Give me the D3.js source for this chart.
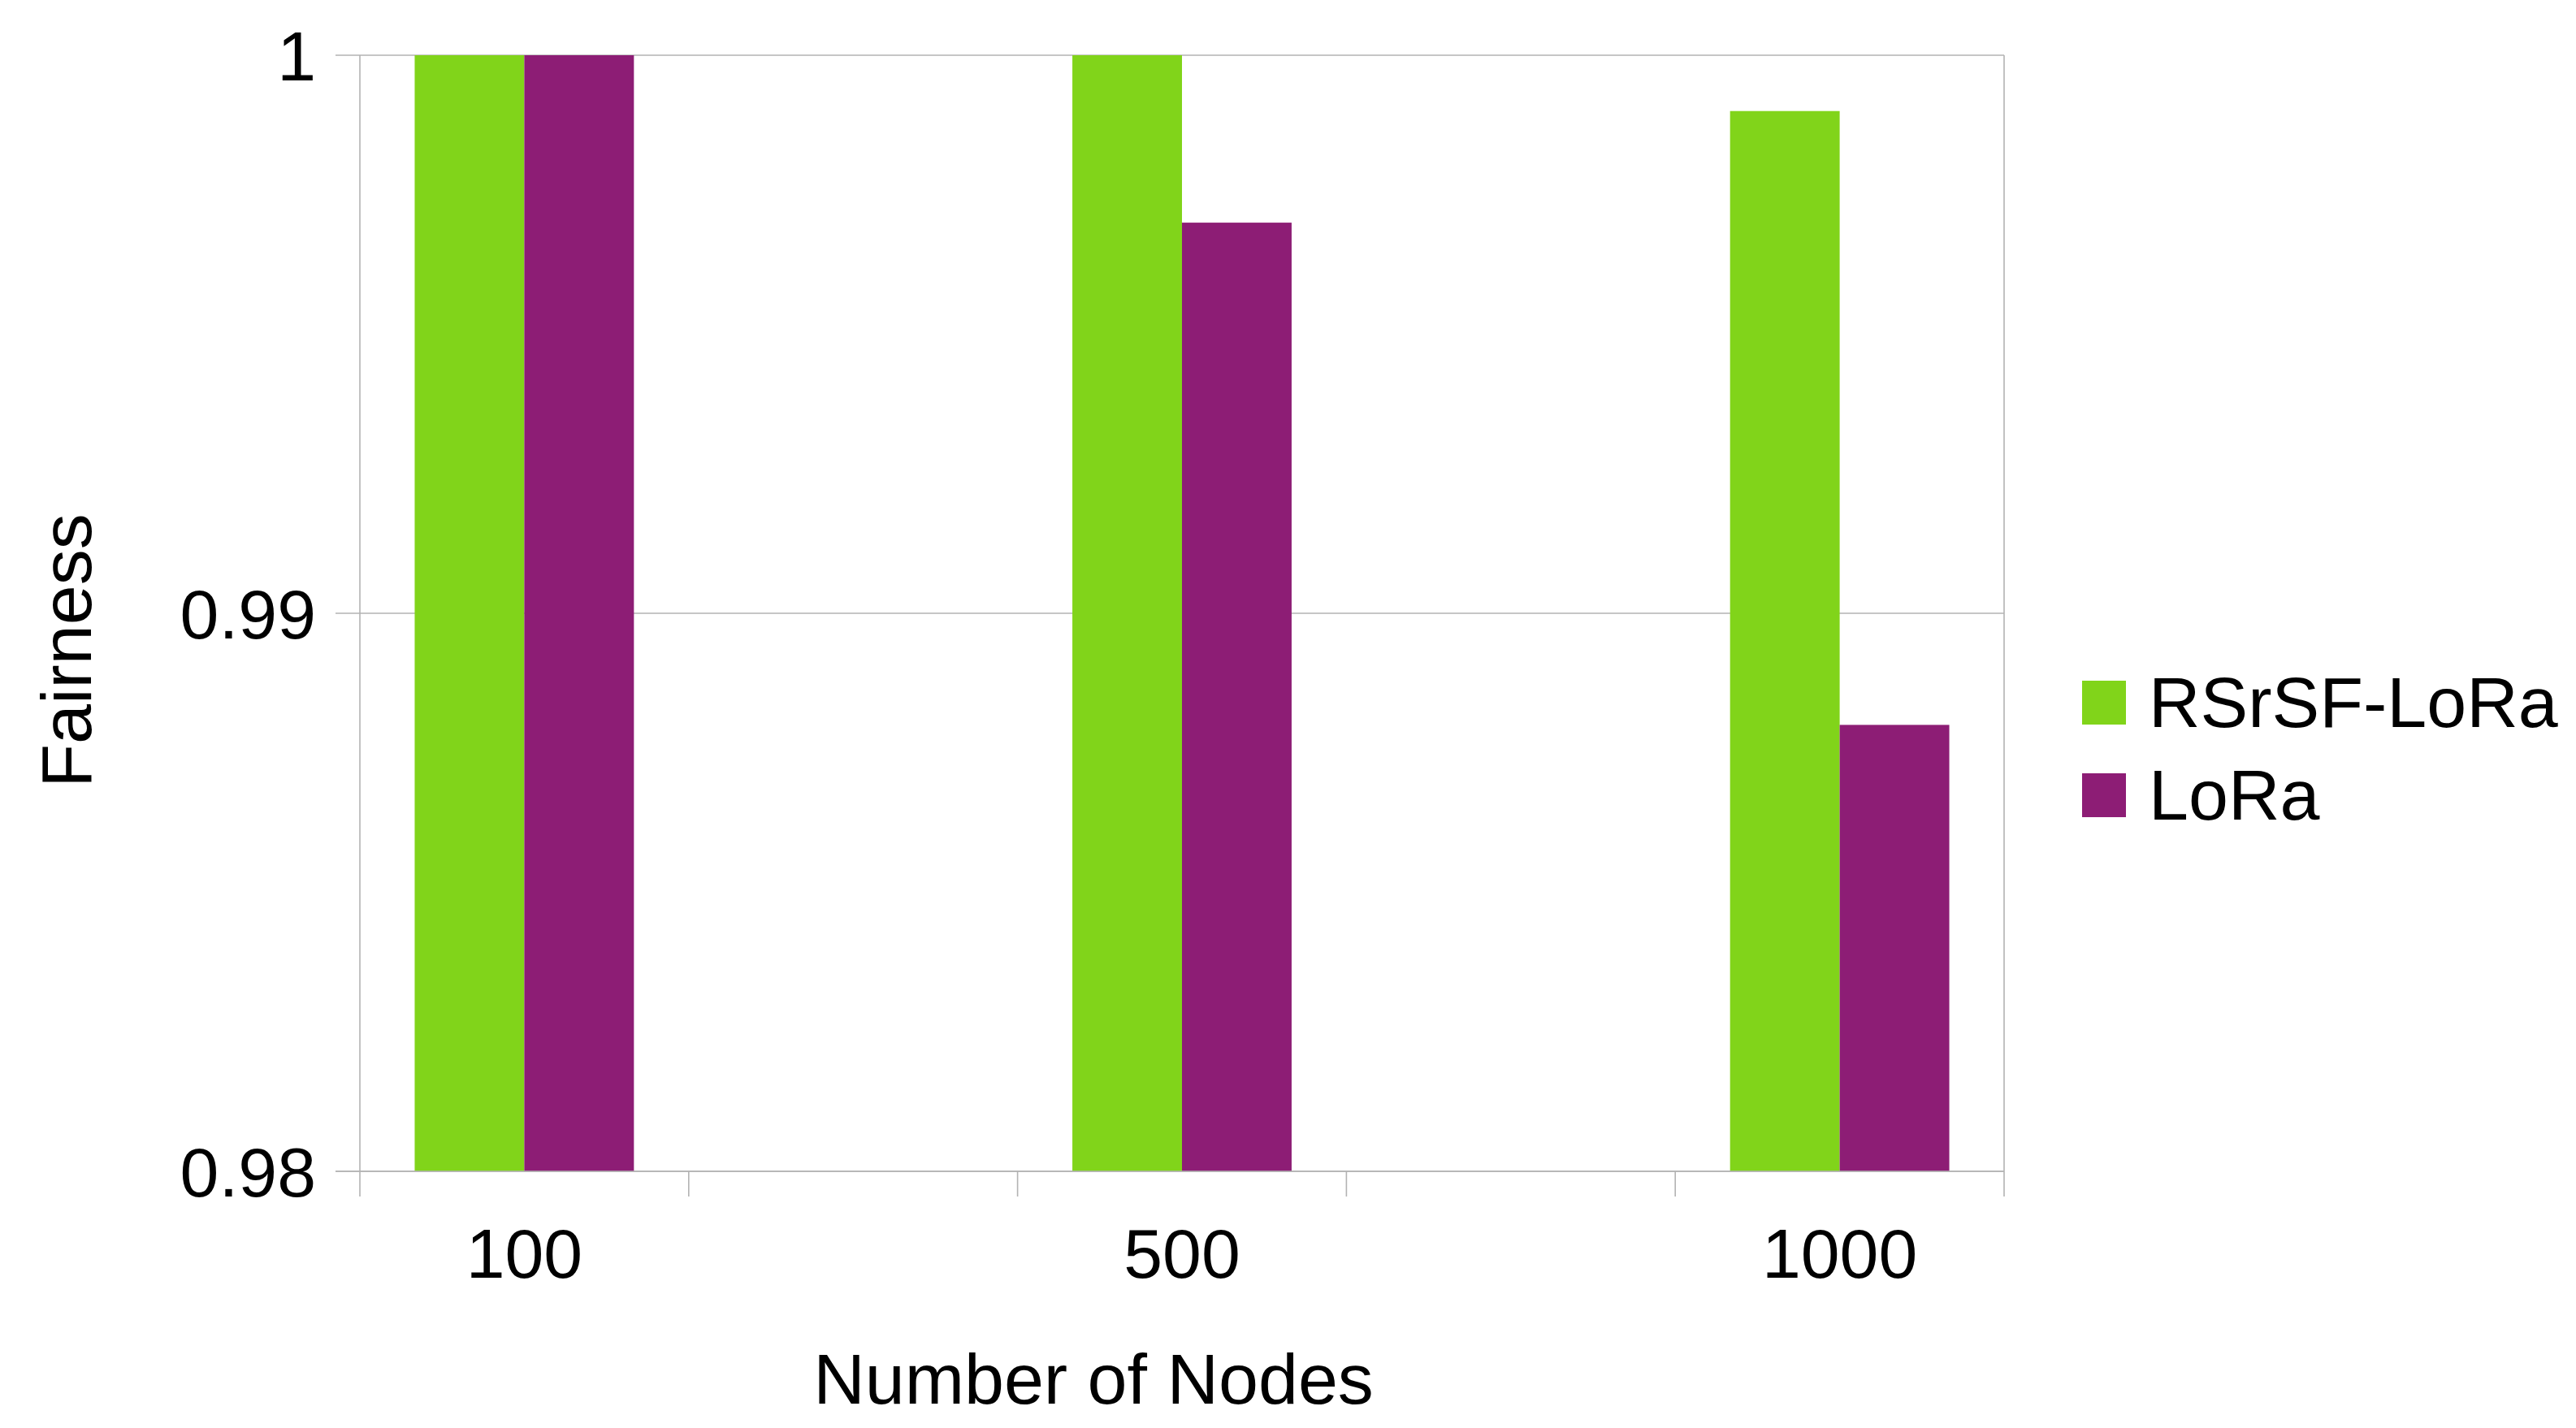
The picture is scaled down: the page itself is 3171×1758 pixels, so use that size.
<!DOCTYPE html>
<html>
<head>
<meta charset="utf-8">
<script src="https://cdn.jsdelivr.net/npm/d3@7"></script>
<style>
  html, body { margin: 0; padding: 0; background: #fff; }
  svg { display: block; font-family: "Liberation Sans", Arial, sans-serif; }
</style>
</head>
<body>
<div id="chart"></div>
<script>
// ---------- Data ----------
// 5 slots on the x axis, the 2nd and 4th are blank (no label, no bars)
const categories = ["100", "", "500", "", "1000"];
const seriesNames = ["RSrSF-LoRa", "LoRa"];
const rsrsfValues = [1.0, null, 1.0, null, 0.999];
const loraValues  = [1.0, null, 0.997, null, 0.988];
const yTicks = [0.98, 0.99, 1];
const yTickLabels = ["0.98", "0.99", "1"];
const colors = ["#81d41a", "#8d1d75"];

// ---------- Layout ----------
const W = 3171, H = 1758;
const m = { t: 68, l: 443, r: W - 2467, b: H - 1442 };
const FS = 86;      // tick labels
const FT = 88;      // titles + legend
const gridColor = "#b3b3b3";

const svg = d3.select("#chart").append("svg")
  .attr("width", W).attr("height", H)
  .attr("viewBox", [0, 0, W, H]);

svg.append("rect").attr("width", W).attr("height", H).attr("fill", "#fff");

const x = d3.scaleBand().domain(d3.range(categories.length)).range([m.l, W - m.r]);
const xs = d3.scaleBand().domain(d3.range(seriesNames.length))
  .range([x.bandwidth() / 6, x.bandwidth() * 5 / 6]);
const y = d3.scaleLinear().domain([0.98, 1]).range([H - m.b, m.t]);

// gridlines (horizontal)
svg.append("g").selectAll("line").data(yTicks).join("line")
  .attr("x1", m.l - 30).attr("x2", W - m.r)
  .attr("y1", d => y(d)).attr("y2", d => y(d))
  .attr("stroke", gridColor).attr("stroke-width", 1.6);

// left axis line + right frame line
svg.append("line").attr("x1", m.l).attr("x2", m.l)
  .attr("y1", m.t).attr("y2", H - m.b + 31)
  .attr("stroke", gridColor).attr("stroke-width", 1.6);
svg.append("line").attr("x1", W - m.r).attr("x2", W - m.r)
  .attr("y1", m.t).attr("y2", H - m.b + 31)
  .attr("stroke", gridColor).attr("stroke-width", 1.6);

// x ticks at category boundaries
const bounds = d3.range(1, categories.length).map(i => x(i));
svg.append("g").selectAll("line").data(bounds).join("line")
  .attr("x1", d => d).attr("x2", d => d)
  .attr("y1", H - m.b).attr("y2", H - m.b + 31)
  .attr("stroke", gridColor).attr("stroke-width", 1.6);

// ---------- Bars ----------
const seriesData = [rsrsfValues, loraValues];
seriesData.forEach((vals, si) => {
  svg.append("g").selectAll("rect")
    .data(vals.map((v, i) => ({ i, v })).filter(d => d.v != null))
    .join("rect")
    .attr("x", d => x(d.i) + xs(si))
    .attr("width", xs.bandwidth())
    .attr("y", d => y(d.v))
    .attr("height", d => y(0.98) - y(d.v))
    .attr("fill", colors[si]);
});

// redraw bottom axis line on top of bars
svg.append("line").attr("x1", m.l - 30).attr("x2", W - m.r)
  .attr("y1", y(0.98)).attr("y2", y(0.98))
  .attr("stroke", gridColor).attr("stroke-width", 1.6);

// ---------- Labels ----------
svg.append("g").selectAll("text").data(yTicks).join("text")
  .attr("x", 389).attr("y", d => y(d) + FS * 0.358)
  .attr("text-anchor", "end").attr("font-size", FS).attr("fill", "#000")
  .text((d, i) => yTickLabels[i]);

svg.append("g").selectAll("text").data(categories).join("text")
  .attr("x", (d, i) => x(i) + x.bandwidth() / 2)
  .attr("y", 1573)
  .attr("text-anchor", "middle").attr("font-size", FS).attr("fill", "#000")
  .text(d => d);

svg.append("text")
  .attr("x", 1346).attr("y", 1728)
  .attr("text-anchor", "middle").attr("font-size", FT).attr("fill", "#000")
  .text("Number of Nodes");

svg.append("text")
  .attr("transform", "translate(112,801) rotate(-90)")
  .attr("text-anchor", "middle").attr("font-size", FT).attr("fill", "#000")
  .text("Fairness");

// ---------- Legend ----------
const leg = svg.append("g").selectAll("g").data(seriesNames).join("g")
  .attr("transform", (d, i) => `translate(2563,${838 + i * 114})`);
leg.append("rect").attr("width", 54).attr("height", 54).attr("fill", (d, i) => colors[i]);
leg.append("text").attr("x", 82).attr("y", 57)
  .attr("font-size", FT).attr("fill", "#000").text(d => d);
</script>
</body>
</html>
